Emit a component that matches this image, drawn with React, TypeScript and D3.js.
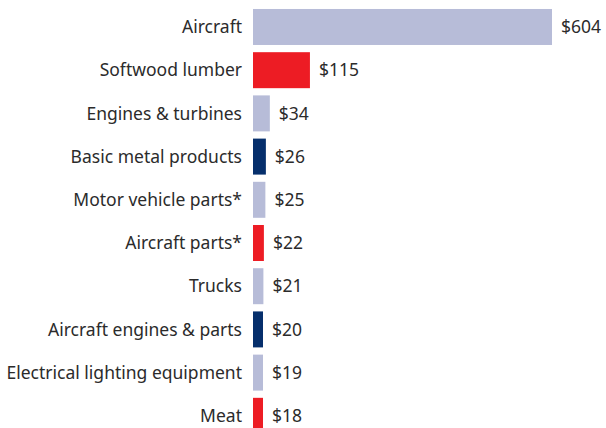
import { useEffect, useRef } from "react";
import * as d3 from "d3";

const categories = [
  "Aircraft",
  "Softwood lumber",
  "Engines & turbines",
  "Basic metal products",
  "Motor vehicle parts*",
  "Aircraft parts*",
  "Trucks",
  "Aircraft engines & parts",
  "Electrical lighting equipment",
  "Meat",
];
const values = [604, 115, 34, 26, 25, 22, 21, 20, 19, 18];
// colour group: 0 = lavender, 1 = red, 2 = navy
const groups = [0, 1, 0, 2, 0, 1, 0, 2, 0, 1];
const palette = ["#b7bcd8", "#ed1c24", "#062f6c"];

export default function App() {
  const ref = useRef<SVGSVGElement>(null);

  useEffect(() => {
    const el = ref.current;
    if (!el) return;
    const W = 606;
    const H = 428;
    const M = { top: 9, left: 253, right: 55 };
    const font = "'Noto Sans', Lato, sans-serif";

    d3.select(el).selectAll("*").remove();
    const svg = d3.select(el).attr("width", W).attr("height", H);

    const x = d3.scaleLinear().domain([0, 604]).range([M.left, 552]);
    const y = d3.scaleBand()
      .domain(categories)
      .range([M.top - 3.6, M.top - 3.6 + 43.2 * categories.length])
      .paddingInner(0.167)
      .paddingOuter(0.083);

    const rows = categories.map((c, i) => ({ c, v: values[i], g: groups[i] }));
    const barW = (v: number) => Math.max(10, x(v) - x(0));

    // Bars
    svg.selectAll(".bar")
      .data(rows).join("rect").attr("class", "bar")
      .attr("x", x(0))
      .attr("y", (d) => y(d.c)!)
      .attr("width", (d) => barW(d.v))
      .attr("height", y.bandwidth())
      .attr("fill", (d) => palette[d.g]);

    // Category labels
    svg.selectAll(".lbl")
      .data(rows).join("text").attr("class", "lbl")
      .attr("x", M.left - 11)
      .attr("y", (d) => y(d.c)! + y.bandwidth() / 2)
      .attr("dy", "0.35em")
      .attr("text-anchor", "end")
      .attr("fill", "#2b2b2b")
      .style("font-family", font)
      .style("font-size", "17.5px")
      .text((d) => d.c);

    // Value labels
    svg.selectAll(".val")
      .data(rows).join("text").attr("class", "val")
      .attr("x", (d) => x(0) + barW(d.v) + 9)
      .attr("y", (d) => y(d.c)! + y.bandwidth() / 2)
      .attr("dy", "0.35em")
      .attr("fill", "#2b2b2b")
      .style("font-family", font)
      .style("font-size", "17.5px")
      .text((d) => `$${d.v}`);
  }, []);

  return (
    <div style={{ position: "fixed", left: 0, top: 0, background: "#fff" }}>
      <svg ref={ref} style={{ display: "block" }} />
    </div>
  );
}
